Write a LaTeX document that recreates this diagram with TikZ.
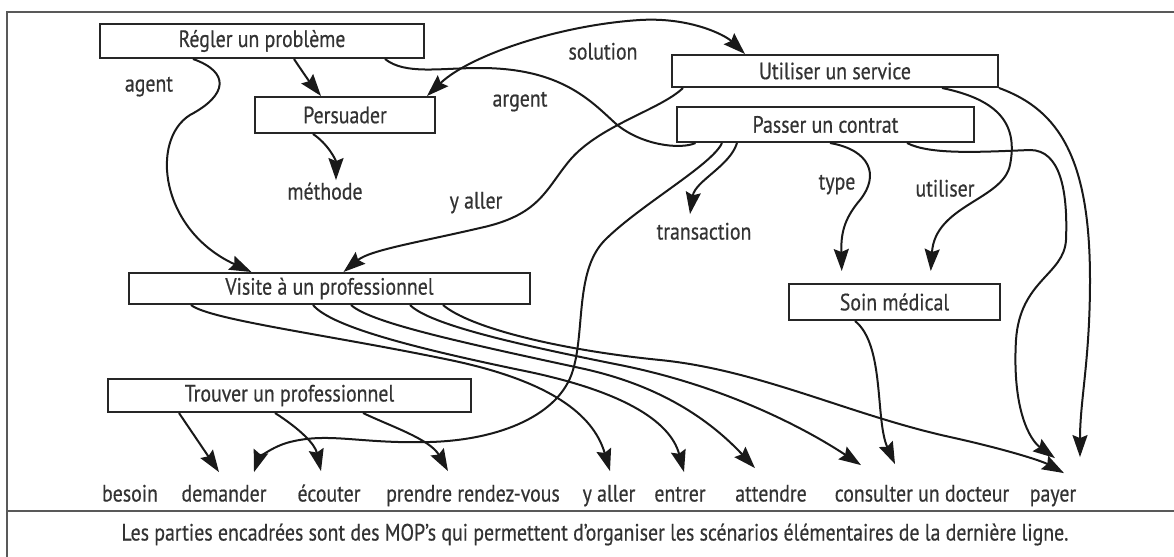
\documentclass[tikz,border=0pt]{standalone}
\usepackage{fontspec}
\setmainfont{PT Sans}[FakeStretch=0.84,FakeBold=0.5]
\usetikzlibrary{arrows.meta,calc,positioning}
\tikzstyle{mop}=[draw=black!85,line width=1pt,rectangle,inner sep=0pt,text=black!80,font=\fontsize{11.8}{14}\selectfont]
\tikzstyle{lab}=[inner sep=1pt,text=black!80,text height=8.5pt,text depth=2pt,font=\fontsize{11.8}{14}\selectfont]
\tikzstyle{lien}=[->,draw=black!90,line width=1pt]

\begin{document}
\begin{tikzpicture}[x=0.5pt,y=-0.5pt,>={Stealth[length=11pt,width=7.5pt,inset=1.5pt]}]
\useasboundingbox (0,0) rectangle (1174,557);
% cadre
\draw[black!65,line width=1.4pt] (1174,12) -- (7,12) -- (7,557);
\draw[black!65,line width=1.4pt] (7,511) -- (1174,511);

% les MOP
\node[mop,minimum width=162pt,minimum height=17pt] (regler) at (262,41) {Régler un problème};
\node[mop,minimum width=90pt,minimum height=18pt] (persuader) at (345,115) {Persuader};
\node[mop,minimum width=163pt,minimum height=16pt] (service) at (835,71) {Utiliser un service};
\node[mop,minimum width=148.5pt,minimum height=17.5pt] (contrat) at (825.5,124.5) {Passer un contrat};
\node[mop,minimum width=200.5pt,minimum height=15.5pt] (visite) at (329.5,288.5) {Visite à un professionnel};
\node[mop,minimum width=105.5pt,minimum height=18pt] (soin) at (894.5,302) {Soin médical};
\node[mop,minimum width=181.5pt,minimum height=16.5pt] (trouver) at (289.5,395.5) {Trouver un professionnel};

% etiquettes
\node[lab] (agent) at (149,85) {agent};
\node[lab] (solution) at (603,53) {solution};
\node[lab] (argent) at (520,100) {argent};
\node[lab] (methode) at (325,193) {méthode};
\node[lab] (yaller0) at (476,202) {y aller};
\node[lab] (transaction) at (704,233) {transaction};
\node[lab] (type) at (837,183) {type};
\node[lab] (utiliser) at (945,190) {utiliser};

% scenarios elementaires
\foreach \n/\x/\t in {besoin/130/besoin, demander/224/demander, ecouter/329/écouter,
  prendre/473/prendre rendez-vous, yaller/609/y aller, entrer/680/entrer,
  attendre/771/attendre, consulter/922/consulter un docteur, payer/1053/payer}
  \node[lab] (\n) at (\x,495) {\t};

\node[lab] (legende) at (595,534) {Les parties encadrées sont des MOP’s qui permettent d’organiser les scénarios élémentaires de la dernière ligne.};

% Regler un probleme
\draw[lien] ($(regler.south)+(-69,0)$) .. controls (230,72) and (228,95) .. (190,115)
  .. controls (150,140) and (160,230) .. ($(visite.north)+(-78,0)$);
\draw[lien] ($(regler.south)+(32,0)$) .. controls +(10,15) and +(-12,-15) .. ($(persuader.north)+(-24,0)$);
\draw[lien,-] ($(regler.south)+(123,0)$) .. controls (405,75) and (440,68) .. (480,68)
  .. controls (560,68) and (590,100) .. (615,123)
  .. controls (640,145) and (680,150) .. ($(contrat.south)+(-130,0)$);

% Persuader
\draw[lien,<->] ($(persuader.north)+(82,0)$) .. controls (470,55) and (560,25) .. (640,20)
  .. controls (690,17) and (725,35) .. ($(service.north)+(-90,0)$);
\draw[lien] ($(persuader.south)+(-32,0)$) .. controls +(15,10) and +(0,-20) .. ($(methode.north)+(11,0)$);

% Utiliser un service
\draw[lien] ($(service.south)+(-152,0)$) .. controls (660,110) and (600,125) .. (570,160)
  .. controls (545,190) and (540,215) .. (480,228)
  .. controls (420,242) and (370,250) .. ($(visite.north)+(14,0)$);
\draw[lien,shorten >=6pt] ($(service.south)+(107,0)$) .. controls (1000,100) and (1018,125) .. (1010,165)
  .. controls (1003,200) and (935,205) .. ($(soin.north)+(35.5,0)$);
\draw[lien] (service.south east) .. controls (1060,110) and (1090,160) .. (1090,280)
  .. controls (1090,360) and (1080,400) .. ($(payer.north)+(27,-25)$);

% Passer un contrat
\draw[lien] ($(contrat.south)+(-88.5,0)$) .. controls +(-7,23) and +(5,-33) .. ($(transaction.north)+(-14,-6)$);
\draw[lien] ($(contrat.south)+(-103.5,0)$) .. controls (712,165) and (640,205) .. (605,240)
  .. controls (575,270) and (585,330) .. (573,370)
  .. controls (560,415) and (500,440) .. (430,442)
  .. controls (360,444) and (330,432) .. (290,442)
  .. controls (270,447) and (258,460) .. ($(demander.north)+(30,-10)$);
\draw[lien,shorten >=6pt] ($(contrat.south)+(4.5,0)$) .. controls (870,150) and (880,175) .. (860,200)
  .. controls (843,220) and (841,235) .. ($(soin.north)+(-52.5,0)$);
\draw[lien] ($(contrat.south)+(81.5,0)$) .. controls (930,155) and (980,152) .. (1030,150)
  .. controls (1060,150) and (1068,190) .. (1066,240)
  .. controls (1064,275) and (1020,280) .. (1016,340)
  .. controls (1012,410) and (1030,440) .. ($(payer.north)+(2,-24)$);

% Visite a un professionnel
\draw[lien] ($(visite.south)+(-138.5,0)$) .. controls (210,320) and (330,335) .. (450,360)
  .. controls (560,383) and (595,420) .. ($(yaller.north)+(1,-11)$);
\draw[lien] ($(visite.south)+(-16.5,0)$) .. controls (330,325) and (400,345) .. (520,370)
  .. controls (620,390) and (670,420) .. ($(entrer.north)+(4,-10)$);
\draw[lien] ($(visite.south)+(21.5,0)$) .. controls (370,322) and (450,340) .. (580,368)
  .. controls (660,385) and (710,420) .. ($(attendre.north)+(-16,-14)$);
\draw[lien] ($(visite.south)+(80.5,0)$) .. controls (430,325) and (520,345) .. (620,365)
  .. controls (720,385) and (800,425) .. ($(consulter.north)+(-61,-17)$);
\draw[lien] ($(visite.south)+(113.5,0)$) .. controls (470,328) and (560,350) .. (660,360)
  .. controls (760,370) and (850,415) .. (950,437)
  .. controls (1000,448) and (1040,460) .. ($(payer.north)+(11,-9)$);

% Soin medical
\draw[lien] ($(soin.south)+(-39.5,0)$) .. controls (885,345) and (875,420) .. ($(consulter.north)+(-27,-18)$);

% Trouver un professionnel
\draw[lien] ($(trouver.south)+(-110.5,0)$) -- ($(demander.north)+(-5,-10)$);
\draw[lien] ($(trouver.south)+(-14.5,0)$) .. controls +(25,16) and +(-6,-27) .. ($(ecouter.north)+(-8,-11)$);
\draw[lien] ($(trouver.south)+(73.5,0)$) .. controls +(27,13) and +(-18,-32) .. ($(prendre.north)+(-25,-11)$);
\end{tikzpicture}
\end{document}
